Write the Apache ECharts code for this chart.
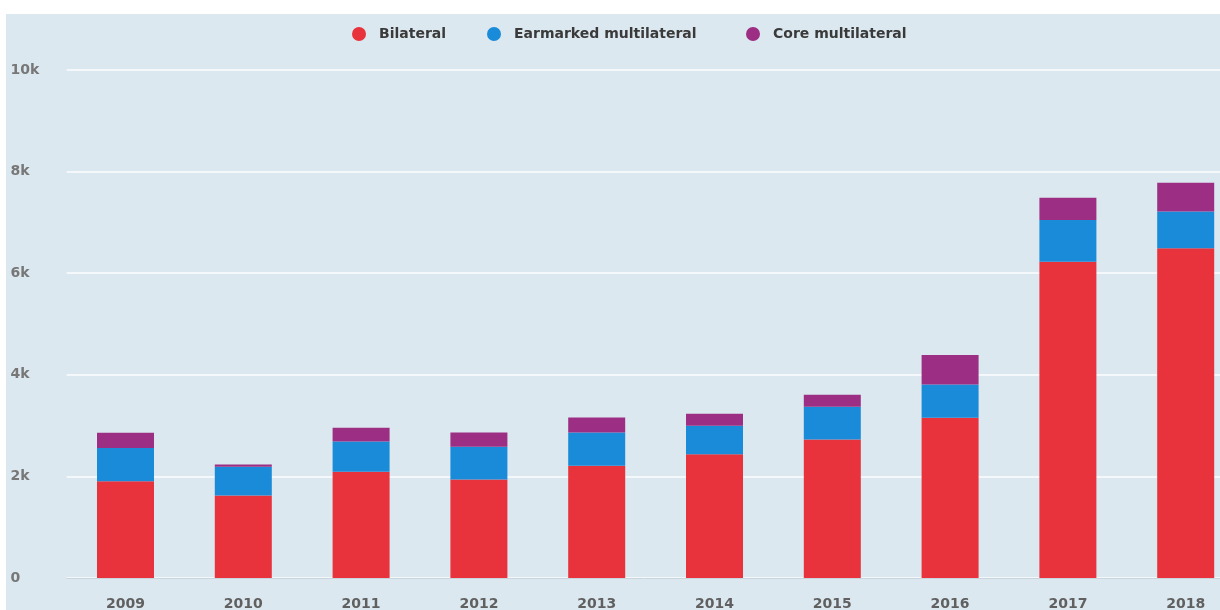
<!DOCTYPE html>
<html>
<head>
<meta charset="utf-8">
<script src="https://cdn.jsdelivr.net/npm/echarts@6/dist/echarts.min.js"></script>
<style>
  html, body { margin: 0; padding: 0; background: #ffffff; width: 1220px; height: 610px; overflow: hidden; }
  #bg { position: absolute; left: 6px; top: 14px; width: 1214px; height: 596px; background: #dce8ef; }
  #chart { position: absolute; left: 0; top: 0; width: 1220px; height: 610px; }
</style>
</head>
<body>
<div id="bg"></div>
<div id="chart"></div>
<script>
const years = ['2009', '2010', '2011', '2012', '2013', '2014', '2015', '2016', '2017', '2018'];
const seriesNames = ['Bilateral', 'Earmarked multilateral', 'Core multilateral'];
const bilateral = [1906, 1625, 2090, 1940, 2208, 2438, 2727, 3153, 6225, 6489];
const earmarked = [654, 563, 598, 642, 657, 557, 642, 658, 821, 728];
const core = [301, 47, 268, 283, 296, 237, 237, 577, 439, 564];
const yTicks = [0, 2000, 4000, 6000, 8000, 10000];

const chart = echarts.init(document.getElementById('chart'), null, { renderer: 'canvas' });
const font = 'DejaVu Sans';
const colors = ['#e8333d', '#1a8bd9', '#9c2f83'];
const legendLefts = [352, 487, 746];
const barSeries = (name, data, color) => ({
  name: name,
  type: 'bar',
  stack: 'total',
  data: data,
  barWidth: 57,
  itemStyle: { color: color },
  emphasis: { disabled: true }
});
chart.setOption({
  animation: false,
  backgroundColor: 'transparent',
  color: colors,
  legend: seriesNames.map((n, i) => ({
    left: legendLefts[i],
    top: 27,
    padding: 0,
    itemWidth: 14,
    itemHeight: 14,
    icon: 'circle',
    selectedMode: false,
    textStyle: { fontFamily: font, fontWeight: 'bold', fontSize: 14, color: '#3a3a3a', padding: [0, 0, 0, 8] },
    data: [n]
  })),
  grid: {
    left: 66.6,
    top: 70,
    width: 1178,
    height: 508,
    containLabel: false,
    outerBoundsMode: 'none'
  },
  xAxis: {
    type: 'category',
    data: years,
    boundaryGap: true,
    axisTick: { show: false },
    axisLine: { show: true, lineStyle: { color: '#c9d4dd', width: 1 } },
    axisLabel: { fontFamily: font, fontWeight: 'bold', fontSize: 14, color: '#606060', margin: 19, interval: 0 }
  },
  yAxis: {
    type: 'value',
    min: yTicks[0],
    max: yTicks[yTicks.length - 1],
    interval: 2000,
    axisLine: { show: false },
    axisTick: { show: false },
    splitLine: { show: true, lineStyle: { color: '#f4f8fb', width: 2 } },
    axisLabel: {
      fontFamily: font, fontWeight: 'bold', fontSize: 14, color: '#777777',
      align: 'left', margin: 56, padding: [4, 0, 0, 0],
      formatter: v => v === 0 ? '0' : (v / 1000) + 'k'
    }
  },
  series: [
    barSeries(seriesNames[0], bilateral, colors[0]),
    barSeries(seriesNames[1], earmarked, colors[1]),
    barSeries(seriesNames[2], core, colors[2])
  ]
});
</script>
</body>
</html>
